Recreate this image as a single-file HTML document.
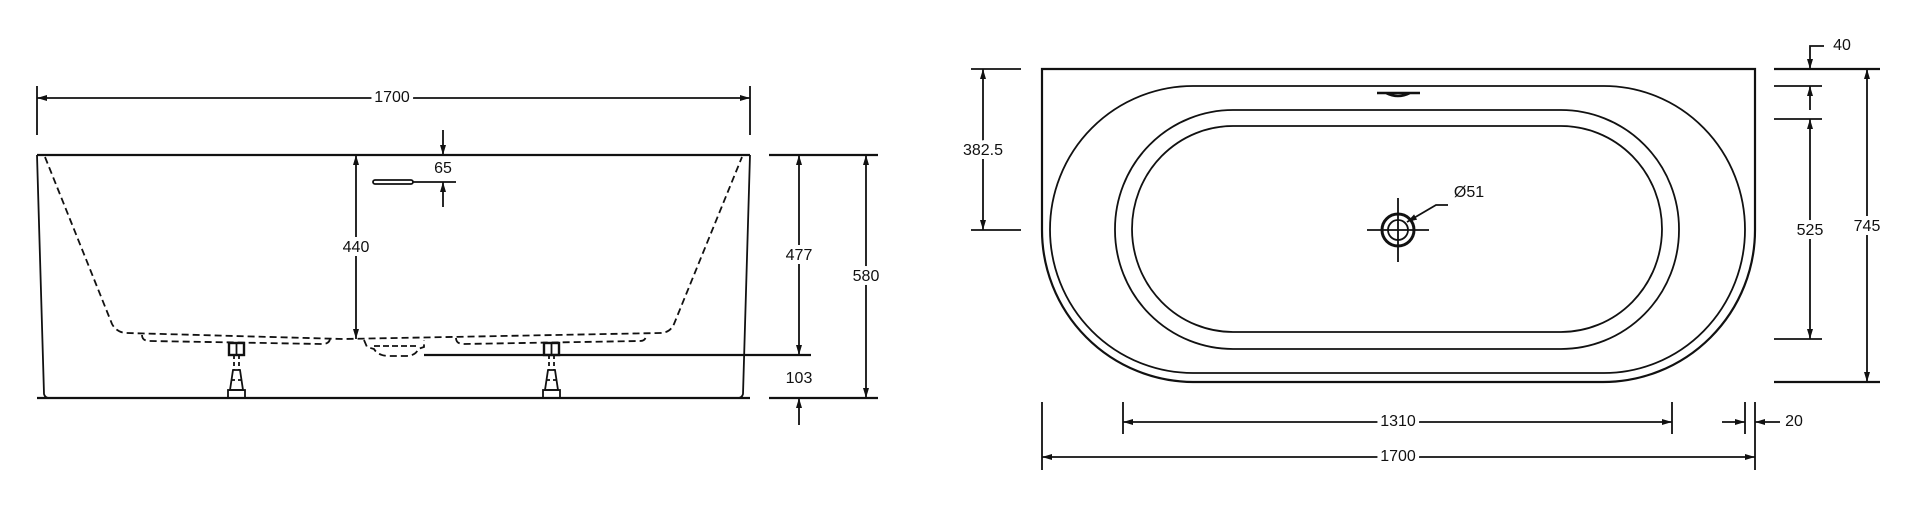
<!DOCTYPE html>
<html><head><meta charset="utf-8"><style>
html,body{margin:0;padding:0;background:#fff;}
svg{display:block;}
text{font-family:"Liberation Sans",sans-serif;font-size:16px;fill:#111;text-anchor:middle;dominant-baseline:middle;paint-order:stroke;stroke:#fff;stroke-width:8px;}
</style></head><body>
<svg width="1920" height="531" viewBox="0 0 1920 531" xmlns="http://www.w3.org/2000/svg">
<defs>
<marker id="a" viewBox="0 0 10 6" refX="10" refY="3" markerWidth="10" markerHeight="6" markerUnits="userSpaceOnUse" orient="auto-start-reverse"><path d="M0,0 L10,3 L0,6 z" fill="#111"/></marker>
</defs>
<g stroke="#111" stroke-width="1.8" fill="none">
<!-- LEFT VIEW -->
<line x1="37" y1="86" x2="37" y2="135"/><line x1="750" y1="86" x2="750" y2="135"/>
<line x1="37" y1="98" x2="750" y2="98" marker-start="url(#a)" marker-end="url(#a)"/>
<line x1="37" y1="155" x2="750" y2="155" stroke-width="2.2"/>
<line x1="37" y1="398" x2="750" y2="398" stroke-width="2.2"/>
<path d="M37 155 L44 394 Q45 398 49 398"/>
<path d="M750 155 L743 394 Q742 398 738 398"/>
<path stroke-dasharray="7,4" d="M45 157 L112 324 Q117 333 127 333 L343 339 L660 333 Q670 333 674 324 L742 157"/>
<path stroke-dasharray="7,4" d="M142 335 Q142 341 150 341 L322 344 Q330 344 330 338"/>
<path stroke-dasharray="7,4" d="M456 338 Q456 344 464 344 L640 341 Q646 341 646 335"/>
<path stroke-dasharray="7,4" d="M364 340 L367 347 L374 349 Q378 356 390 356 L405 356 Q416 356 418 349 L424 347 L424 340"/>
<path stroke-dasharray="6,3" d="M374 346 H416"/>
<g id="leg">
<rect x="229" y="343" width="15" height="12" stroke-width="2.4"/>
<line x1="236.5" y1="343" x2="236.5" y2="355"/>
<path stroke-dasharray="4,3" d="M234 355 V370 M239 355 V370"/>
<path d="M233 370 L230 390 H243 L240 370 Z"/>
<path stroke-dasharray="4,3" d="M231 380 H242"/>
<rect x="228" y="390" width="17" height="8"/>
</g>
<use href="#leg" x="315"/>
<line x1="443" y1="130" x2="443" y2="155" marker-end="url(#a)"/>
<line x1="443" y1="207" x2="443" y2="182" marker-end="url(#a)"/>
<line x1="413" y1="182" x2="456" y2="182"/>
<rect x="373" y="180" width="40" height="4" rx="2"/>
<line x1="356" y1="155" x2="356" y2="339" marker-start="url(#a)" marker-end="url(#a)"/>
<line x1="424" y1="355" x2="811" y2="355" stroke-width="2.2"/>
<line x1="769" y1="155" x2="878" y2="155" stroke-width="2.2"/>
<line x1="769" y1="398" x2="878" y2="398" stroke-width="2.2"/>
<line x1="799" y1="155" x2="799" y2="355" marker-start="url(#a)" marker-end="url(#a)"/>
<line x1="866" y1="155" x2="866" y2="398" marker-start="url(#a)" marker-end="url(#a)"/>
<line x1="799" y1="425" x2="799" y2="398" marker-end="url(#a)"/>

<!-- RIGHT VIEW -->
<path stroke-width="2.2" d="M1042 69 H1755 V230 A152 152 0 0 1 1603 382 H1193 A152 152 0 0 1 1042 230 Z"/>
<path d="M1193 86 H1604 A141 143.5 0 0 1 1604 373 H1193 A143 143.5 0 0 1 1193 86 Z"/>
<rect x="1115" y="110" width="564" height="239" rx="118" ry="119"/>
<rect x="1132" y="126" width="530" height="206" rx="101" ry="103"/>
<path d="M1377 93 H1420 M1386 93 Q1398 99 1410 93" stroke-width="2.5"/>
<circle cx="1398" cy="230" r="16" stroke-width="3"/>
<circle cx="1398" cy="230" r="10"/>
<line x1="1367" y1="230" x2="1429" y2="230"/>
<line x1="1398" y1="198" x2="1398" y2="262"/>
<path d="M1448 205 H1436 L1407 222" marker-end="url(#a)"/>
<line x1="971" y1="69" x2="1021" y2="69"/><line x1="971" y1="230" x2="1021" y2="230"/>
<line x1="983" y1="69" x2="983" y2="230" marker-start="url(#a)" marker-end="url(#a)"/>
<line x1="1774" y1="69" x2="1880" y2="69" stroke-width="2.2"/>
<line x1="1774" y1="382" x2="1880" y2="382" stroke-width="2.2"/>
<line x1="1867" y1="69" x2="1867" y2="382" marker-start="url(#a)" marker-end="url(#a)"/>
<line x1="1774" y1="86" x2="1822" y2="86"/>
<line x1="1774" y1="119" x2="1822" y2="119"/>
<line x1="1774" y1="339" x2="1822" y2="339"/>
<path d="M1824 46 H1810 V69" marker-end="url(#a)"/>
<line x1="1810" y1="110" x2="1810" y2="86" marker-end="url(#a)"/>
<line x1="1810" y1="119" x2="1810" y2="339" marker-start="url(#a)" marker-end="url(#a)"/>
<line x1="1042" y1="402" x2="1042" y2="470"/><line x1="1755" y1="402" x2="1755" y2="470"/>
<line x1="1123" y1="402" x2="1123" y2="434"/><line x1="1672" y1="402" x2="1672" y2="434"/>
<line x1="1745" y1="402" x2="1745" y2="434"/>
<line x1="1123" y1="422" x2="1672" y2="422" marker-start="url(#a)" marker-end="url(#a)"/>
<line x1="1042" y1="457" x2="1755" y2="457" marker-start="url(#a)" marker-end="url(#a)"/>
<line x1="1722" y1="422" x2="1745" y2="422" marker-end="url(#a)"/>
<line x1="1780" y1="422" x2="1755" y2="422" marker-end="url(#a)"/>
</g>
<g>
<text x="392" y="98">1700</text>
<text x="443" y="169" style="stroke-width:0">65</text>
<text x="356" y="248">440</text>
<text x="799" y="256">477</text>
<text x="866" y="277">580</text>
<text x="799" y="379">103</text>
<text x="983" y="151">382.5</text>
<text x="1469" y="193" style="stroke-width:0">Ø51</text>
<text x="1842" y="46" style="stroke-width:0">40</text>
<text x="1810" y="231">525</text>
<text x="1867" y="227">745</text>
<text x="1398" y="422">1310</text>
<text x="1398" y="457">1700</text>
<text x="1794" y="422">20</text>
</g>
</svg>
</body></html>
